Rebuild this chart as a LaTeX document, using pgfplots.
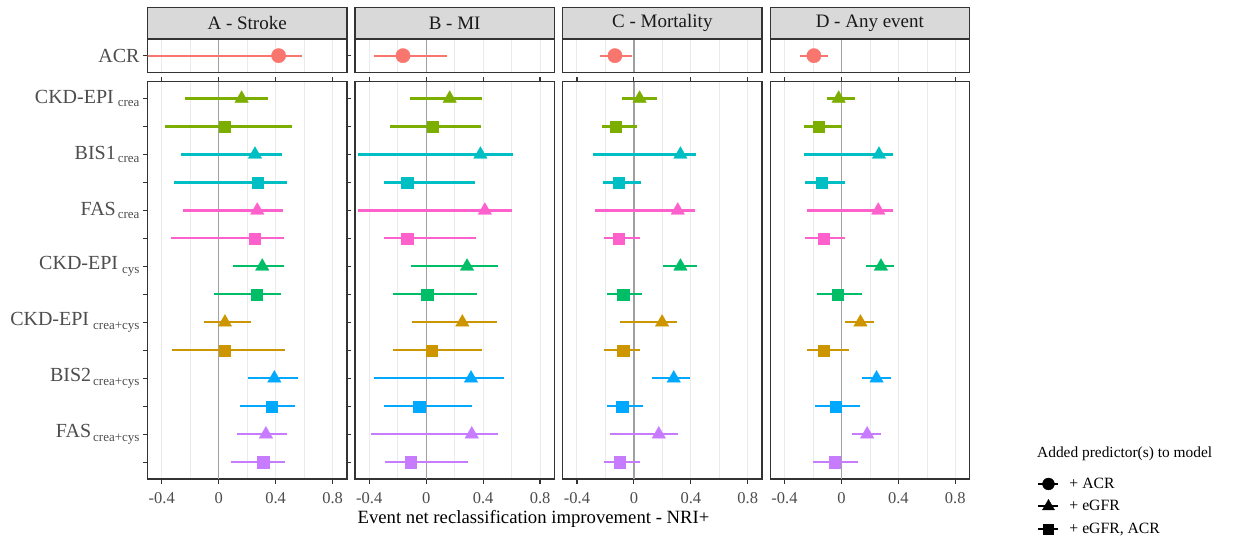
\documentclass[border=0pt]{standalone}
\usepackage{pgfplots}
\pgfplotsset{compat=1.18}
\usepackage{pgfplotstable}
\usepackage{fontspec}
\setmainfont{Liberation Serif}
\definecolor{cACR}{HTML}{F8766D}
\definecolor{cA}{HTML}{7CAE00}
\definecolor{cB}{HTML}{00BFC4}
\definecolor{cC}{HTML}{FF61CC}
\definecolor{cD}{HTML}{00BE67}
\definecolor{cE}{HTML}{CD9600}
\definecolor{cF}{HTML}{00A9FF}
\definecolor{cG}{HTML}{C77CFF}
\definecolor{gridc}{HTML}{EBEBEB}
\definecolor{g20}{HTML}{333333}
\definecolor{g30}{HTML}{4D4D4D}
\definecolor{g85}{HTML}{D9D9D9}
\definecolor{zero}{HTML}{A0A0A0}
\newcommand\sub[1]{\raisebox{-3.7pt}{\fontsize{13}{13}\selectfont #1}}

% columns: y (position), m (estimate), lo, hi (interval)
\pgfplotstableread{
y m lo hi
14 0.161 -0.236 0.346
13 0.040 -0.377 0.512
12 0.255 -0.264 0.442
11 0.271 -0.316 0.477
10 0.271 -0.248 0.449
9 0.250 -0.332 0.458
8 0.306 0.100 0.458
7 0.269 -0.033 0.435
6 0.044 -0.103 0.227
5 0.040 -0.330 0.466
4 0.391 0.206 0.554
3 0.372 0.150 0.538
2 0.332 0.129 0.482
1 0.313 0.084 0.468
}\tA
\pgfplotstableread{
y m lo hi
14 0.165 -0.115 0.395
13 0.047 -0.256 0.384
12 0.381 -0.482 0.607
11 -0.134 -0.299 0.346
10 0.412 -0.482 0.602
9 -0.134 -0.299 0.353
8 0.287 -0.108 0.506
7 0.007 -0.235 0.358
6 0.254 -0.101 0.494
5 0.038 -0.235 0.395
4 0.315 -0.369 0.544
3 -0.049 -0.294 0.322
2 0.320 -0.386 0.506
1 -0.108 -0.287 0.296
}\tB
\pgfplotstableread{
y m lo hi
14 0.040 -0.082 0.161
13 -0.126 -0.226 0.019
12 0.327 -0.289 0.438
11 -0.105 -0.215 0.049
10 0.308 -0.273 0.429
9 -0.105 -0.208 0.040
8 0.327 0.205 0.443
7 -0.075 -0.189 0.056
6 0.198 -0.096 0.306
5 -0.075 -0.208 0.044
4 0.280 0.128 0.397
3 -0.082 -0.189 0.061
2 0.175 -0.166 0.308
1 -0.098 -0.210 0.040
}\tC
\pgfplotstableread{
y m lo hi
14 -0.019 -0.099 0.099
13 -0.158 -0.264 0.007
12 0.264 -0.264 0.365
11 -0.139 -0.256 0.028
10 0.259 -0.242 0.365
9 -0.127 -0.256 0.026
8 0.278 0.176 0.367
7 -0.028 -0.172 0.146
6 0.134 0.024 0.228
5 -0.127 -0.242 0.052
4 0.247 0.144 0.348
3 -0.042 -0.186 0.129
2 0.181 0.075 0.275
1 -0.049 -0.200 0.120
}\tD
\pgfplotstableread{
y m lo hi
1 0.421 -0.600 0.588
}\aA
\pgfplotstableread{
y m lo hi
1 -0.163 -0.368 0.148
}\aB
\pgfplotstableread{
y m lo hi
1 -0.133 -0.240 -0.016
}\aC
\pgfplotstableread{
y m lo hi
1 -0.193 -0.289 -0.096
}\aD

\pgfplotsset{
  tri/.style={mark=triangle*, mark size=7.8pt},
  sq/.style={mark=square*, mark size=5.6pt},
  circ/.style={mark=*, mark size=7.2pt},
  base/.style={scale only axis, width=199.3pt, xmin=-0.5, xmax=0.9, anchor=south west,
    xtick={-0.4,0,0.4,0.8}, minor xtick={-0.2,0.2,0.6},
    xmajorgrids, xminorgrids,
    major grid style={color=gridc, line width=1.1pt},
    minor grid style={color=gridc, line width=0.6pt},
    axis line style={g20, line width=1.4pt},
    tick align=outside, major tick length=4.5pt, minor tick length=0pt,
    tick style={g20, line width=1.2pt},
    tick label style={g30},
    x tick label style={font=\fontsize{16.5}{17}\selectfont, yshift=-5.5pt},
    y tick label style={font=\fontsize{20}{20}\selectfont},
    ytick style={draw=none}},
  top/.style={base, height=33.3pt, ymin=0.4, ymax=1.6, xticklabels={}, xmajorticks=false, xminorticks=false,
    every axis title shift=0pt,
    title style={at={(0.5,1)}, anchor=south, fill=g85, draw=g20, line width=1.4pt,
      minimum width=199.3pt, minimum height=31.5pt, inner sep=0pt, outer sep=0pt,
      text=black!90, font=\fontsize{19}{19}\selectfont}},
  notick/.style={major tick length=0pt, ytick=\empty},
  bot/.style={base, height=397.3pt, ymin=0.4, ymax=14.6, xticklabels={-0.4,0,0.4,0.8}},
}

% one interval with its point: table, first index, next index, colour, marker
\newcommand\pr[5]{%
  \addplot[#4, line width=2.2pt, only marks, #5, mark options={solid, line width=0.3pt},
    skip coords between index={0}{#2}, skip coords between index={#3}{100},
    error bars/.cd, x dir=both, x explicit, error mark=none,
    error bar style={#4, line width=2.2pt}]
  table[x=m, y=y, x error plus expr=\thisrow{hi}-\thisrow{m},
        x error minus expr=\thisrow{m}-\thisrow{lo}] {#1};}
\newcommand\allrows[1]{%
  \pr{#1}{0}{1}{cA}{tri}\pr{#1}{1}{2}{cA}{sq}%
  \pr{#1}{2}{3}{cB}{tri}\pr{#1}{3}{4}{cB}{sq}%
  \pr{#1}{4}{5}{cC}{tri}\pr{#1}{5}{6}{cC}{sq}%
  \pr{#1}{6}{7}{cD}{tri}\pr{#1}{7}{8}{cD}{sq}%
  \pr{#1}{8}{9}{cE}{tri}\pr{#1}{9}{10}{cE}{sq}%
  \pr{#1}{10}{11}{cF}{tri}\pr{#1}{11}{12}{cF}{sq}%
  \pr{#1}{12}{13}{cG}{tri}\pr{#1}{13}{14}{cG}{sq}}
\newcommand\zeroline[2]{\draw[zero, line width=1.3pt] (axis cs:0,#1) -- (axis cs:0,#2);}

\begin{document}
\begin{tikzpicture}[x=1pt,y=1pt]
\useasboundingbox (0,0) rectangle (1245,542);

% ---- top row (ACR) ----
\begin{axis}[top, at={(147.5pt,469.7pt)}, title={A - Stroke}, ytick={1}, yticklabels={ACR}, ytick style={draw=g20}]
\zeroline{0.4}{1.6}
\pr{\aA}{0}{1}{cACR}{circ}
\end{axis}
\begin{axis}[top, notick, at={(355pt,469.7pt)}, title={B - MI}]
\zeroline{0.4}{1.6}
\pr{\aB}{0}{1}{cACR}{circ}
\end{axis}
\begin{axis}[top, notick, at={(562.7pt,469.7pt)}, title={C - Mortality}]
\zeroline{0.4}{1.6}
\pr{\aC}{0}{1}{cACR}{circ}
\end{axis}
\begin{axis}[top, notick, at={(770.2pt,469.7pt)}, title={D - Any event}]
\zeroline{0.4}{1.6}
\pr{\aD}{0}{1}{cACR}{circ}
\end{axis}

% ---- bottom row ----
\begin{axis}[bot, at={(147.5pt,63pt)}, ytick={1,...,14}, ytick style={draw=g20},
  yticklabels={{},{FAS\hspace{2pt}\sub{crea+cys}},{},{BIS2\hspace{2pt}\sub{crea+cys}},{},{CKD-EPI\hspace{4pt}\sub{crea+cys}},{},{CKD-EPI\hspace{4pt}\sub{cys}},{},{FAS\hspace{2pt}\sub{crea}},{},{BIS1\hspace{2pt}\sub{crea}},{},{CKD-EPI\hspace{4pt}\sub{crea}}}]
\zeroline{0.4}{14.6}
\allrows{\tA}
\end{axis}
\begin{axis}[bot, at={(355pt,63pt)}, ytick=\empty]
\zeroline{0.4}{14.6}
\allrows{\tB}
\end{axis}
\begin{axis}[bot, at={(562.7pt,63pt)}, ytick=\empty]
\zeroline{0.4}{14.6}
\allrows{\tC}
\end{axis}
\begin{axis}[bot, at={(770.2pt,63pt)}, ytick=\empty,
  legend style={at={(axis description cs:1.34,0.008)}, anchor=north west, draw=none, fill=none,
    font=\fontsize{15.7}{15.7}\selectfont, row sep=6.5pt, column sep=8pt, inner sep=0pt,
    nodes={inner sep=2pt}},
  legend cell align=left,
  legend image code/.code={\draw[#1, mark repeat=2, mark phase=2] plot coordinates {(0pt,0pt) (10pt,0pt) (20pt,0pt)};},
  legend entries={+ ACR, + eGFR, {+ eGFR, ACR}}]
\addlegendimage{black, line width=2pt, mark=*, mark size=6pt, mark options={line width=0.3pt}}
\addlegendimage{black, line width=2pt, mark=triangle*, mark size=7pt, mark options={line width=0.3pt}}
\addlegendimage{black, line width=2pt, mark=square*, mark size=5pt, mark options={line width=0.3pt}}
\zeroline{0.4}{14.6}
\allrows{\tD}
\end{axis}

\node[anchor=center, font=\fontsize{18.7}{19}\selectfont] at (533.5,23) {Event net reclassification improvement - NRI+};
\node[anchor=west, inner sep=0pt, font=\fontsize{15.4}{15.4}\selectfont] at (1037,88.5) {Added predictor(s) to model};
\end{tikzpicture}
\end{document}
